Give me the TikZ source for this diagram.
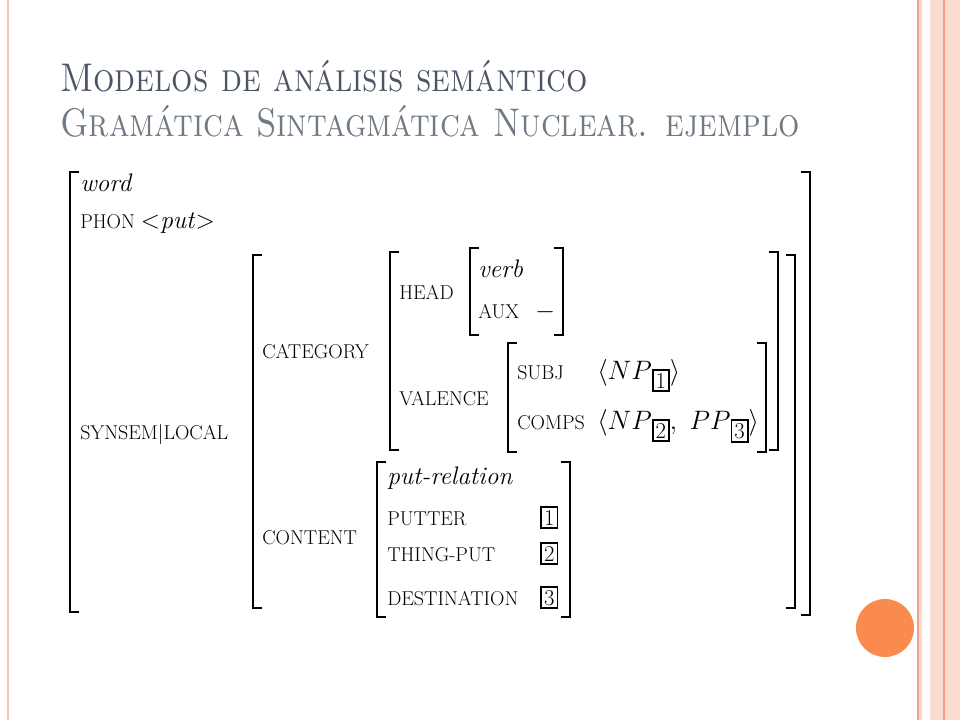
\RequirePackage{fix-cm}
\documentclass[tikz,border=0pt]{standalone}
\usepackage{tikz}
\usetikzlibrary{positioning}
\definecolor{titleA}{HTML}{4A5566}
\definecolor{titleB}{HTML}{6F7A85}
\definecolor{stripe}{HTML}{F6C3B0}
\definecolor{dotc}{HTML}{F98B4F}
\tikzstyle{brk} = [line width=1.6pt]
\tikzstyle{lab} = [anchor=base west,inner sep=0pt,font=\fontsize{15}{17}\selectfont]
\tikzstyle{val} = [anchor=base west,inner sep=0pt,font=\fontsize{19}{21}\selectfont\itshape]
\tikzstyle{ttl} = [anchor=base west,inner sep=0pt,font=\fontsize{30}{32}\selectfont\scshape]
\newcommand{\lbrk}[3]{\draw[brk] (#1+9,#2) -- (#1,#2) -- (#1,#3) -- (#1+9,#3);}
\newcommand{\rbrk}[3]{\draw[brk] (#1-9,#2) -- (#1,#2) -- (#1,#3) -- (#1-9,#3);}
\newcommand{\avmtag}[1]{{\setlength{\fboxsep}{1.5pt}\setlength{\fboxrule}{1.4pt}\fbox{\upshape\fontsize{17}{17}\selectfont #1}}}
\newcommand{\subtag}[1]{\raisebox{-7pt}{\avmtag{#1}}}
\begin{document}
\begin{tikzpicture}[x=0.75pt,y=-0.75pt]
	\useasboundingbox (0,0) rectangle (960,720);
	\fill[white] (0,0) rectangle (960,720);
	% slide decoration
	\draw[stripe,line width=1pt] (8,0) -- (8,720);
	\fill[stripe!60] (918,0) rectangle (960,720);
	\fill[white] (922,0) rectangle (930,720);
	\draw[stripe!80!red,line width=0.8pt] (918,0) -- (918,720);
	\draw[stripe!80!red,line width=0.8pt] (944,0) -- (944,720);
	\fill[dotc] (885,628) circle (29);
	% title
	\node[ttl,text=titleA] (t1) at (60,92) {\scalebox{0.84}[1]{Modelos de análisis semántico}};
	\node[ttl,text=titleB] (t2) at (60,137) {\scalebox{0.84}[1]{Gramática Sintagmática Nuclear. ejemplo}};
	% brackets
	\lbrk{70}{172}{612}
	\rbrk{810}{172}{615}
	\lbrk{253}{255}{608}
	\rbrk{795}{255}{608}
	\lbrk{390}{252}{450}
	\rbrk{778}{252}{450}
	\lbrk{470}{248}{335}
	\rbrk{563}{248}{335}
	\lbrk{508}{343}{452}
	\rbrk{766}{343}{452}
	\lbrk{377}{462}{617}
	\rbrk{570}{462}{617}
	% features
	\node[val] (word) at (80,192) {word};
	\node[lab] (phon) at (80,229) {PHON {\fontsize{19}{21}\selectfont $<$\textit{put}$>$}};
	\node[lab] (synsem) at (80,439) {SYNSEM$|$LOCAL};
	\node[lab] (cat) at (262,358) {CATEGORY};
	\node[lab] (cont) at (262,544) {CONTENT};
	\node[lab] (head) at (399,300) {HEAD};
	\node[val] (verb) at (478,277) {verb};
	\node[lab] (aux) at (478,319) {AUX\hspace{12pt}{\fontsize{19}{21}\selectfont$-$}};
	\node[lab] (val) at (399,405) {VALENCE};
	\node[lab] (subj) at (517,379) {SUBJ};
	\node[lab] (comps) at (517,429) {COMPS};
	\node[anchor=base west,inner sep=0pt,font=\fontsize{20}{22}\selectfont] (subjv) at (597,379) {$\Big\langle NP$\subtag{1}$\Big\rangle$};
	\node[anchor=base west,inner sep=0pt,font=\fontsize{20}{22}\selectfont] (compsv) at (597,429) {$\Big\langle NP$\subtag{2}$,\ PP$\subtag{3}$\Big\rangle$};
	\node[val] (rel) at (387,484) {put-relation};
	\node[lab] (putter) at (387,525) {PUTTER};
	\node[lab] (thing) at (387,561) {THING-PUT};
	\node[lab] (dest) at (387,605) {DESTINATION};
	\node[anchor=base west,inner sep=0pt] (b1) at (540,525) {\avmtag{1}};
	\node[anchor=base west,inner sep=0pt] (b2) at (540,561) {\avmtag{2}};
	\node[anchor=base west,inner sep=0pt] (b3) at (540,605) {\avmtag{3}};
\end{tikzpicture}
\end{document}
